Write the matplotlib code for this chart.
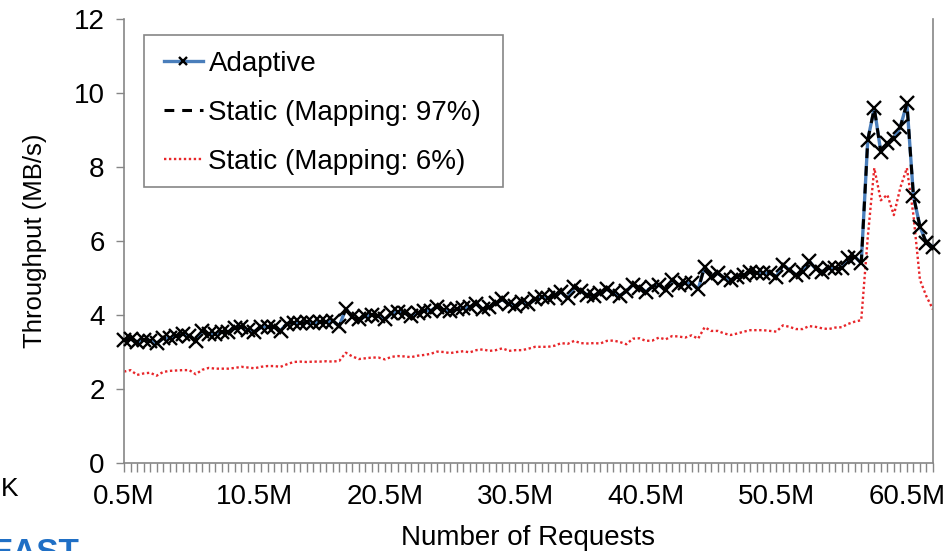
import numpy as np
import matplotlib.pyplot as plt
from matplotlib.patches import Rectangle

# requests issued so far (millions), one sample every 0.5M
requests_m = np.arange(0.5, 63.0, 0.5)

adaptive = [
    3.32, 3.35, 3.28, 3.32, 3.31, 3.23, 3.37, 3.37, 3.43, 3.48,
    3.44, 3.31, 3.58, 3.49, 3.50, 3.53, 3.55, 3.64, 3.67, 3.60,
    3.55, 3.67, 3.68, 3.67, 3.58, 3.77, 3.79, 3.78, 3.80, 3.78,
    3.80, 3.82, 3.84, 3.70, 4.17, 3.94, 3.88, 3.96, 4.00, 3.96,
    3.88, 4.05, 4.09, 4.05, 3.98, 4.05, 4.12, 4.12, 4.22, 4.14,
    4.10, 4.15, 4.18, 4.22, 4.30, 4.15, 4.22, 4.32, 4.42, 4.30,
    4.25, 4.35, 4.30, 4.42, 4.50, 4.46, 4.54, 4.62, 4.45, 4.76,
    4.64, 4.55, 4.52, 4.60, 4.70, 4.60, 4.52, 4.64, 4.82, 4.74,
    4.63, 4.77, 4.81, 4.68, 4.95, 4.81, 4.86, 4.86, 4.69, 5.31,
    5.04, 5.13, 5.00, 4.95, 5.04, 5.08, 5.17, 5.13, 5.13, 5.13,
    5.04, 5.35, 5.22, 5.08, 5.17, 5.46, 5.25, 5.17, 5.26, 5.26,
    5.26, 5.53, 5.58, 5.40, 8.73, 9.59, 8.41, 8.64, 8.77, 9.09,
    9.72, 7.22, 6.39, 5.94, 5.85,
]

# static mapping at 97% tracks the adaptive scheme
static_97 = list(adaptive)

static_6 = [
    2.47, 2.51, 2.38, 2.42, 2.44, 2.36, 2.46, 2.49, 2.50, 2.51,
    2.51, 2.40, 2.52, 2.57, 2.55, 2.55, 2.55, 2.57, 2.60, 2.58,
    2.56, 2.60, 2.62, 2.62, 2.60, 2.67, 2.73, 2.74, 2.73, 2.74,
    2.74, 2.75, 2.74, 2.76, 2.98, 2.88, 2.81, 2.83, 2.85, 2.85,
    2.80, 2.87, 2.89, 2.88, 2.86, 2.90, 2.92, 2.95, 3.01, 3.00,
    2.97, 3.00, 3.02, 2.99, 3.05, 3.07, 3.03, 3.05, 3.10, 3.03,
    3.05, 3.05, 3.09, 3.14, 3.14, 3.14, 3.17, 3.24, 3.22, 3.30,
    3.24, 3.23, 3.24, 3.23, 3.30, 3.31, 3.27, 3.21, 3.36, 3.37,
    3.30, 3.31, 3.39, 3.34, 3.43, 3.42, 3.39, 3.45, 3.36, 3.67,
    3.57, 3.57, 3.50, 3.46, 3.50, 3.55, 3.59, 3.59, 3.59, 3.57,
    3.55, 3.72, 3.68, 3.62, 3.62, 3.70, 3.68, 3.64, 3.62, 3.66,
    3.67, 3.76, 3.82, 3.86, 6.10, 7.97, 7.10, 7.25, 6.70, 7.45,
    7.97, 6.70, 4.95, 4.50, 4.15,
]

plt.rcParams['font.family'] = ['Liberation Sans', 'DejaVu Sans']

W, H = 953, 551
fig = plt.figure(figsize=(W / 100, H / 100), dpi=100)
ax = fig.add_axes([124 / W, 1 - 463 / H, (933 - 124) / W, (463 - 19) / H])

x = np.arange(len(requests_m))
axis_grey = '#868686'

ax.plot(x, adaptive, color='#4A7EBB', lw=2.4, marker='x', ms=10,
        mec='black', mew=1.7, label='Adaptive', clip_on=False, zorder=3)
ax.plot(x, static_97, color='black', lw=2.2, ls=(0, (3.2, 2.6)),
        label='Static (Mapping: 97%)', zorder=4)
ax.plot(x, static_6, color='#E8262A', lw=1.7, ls=(0, (1, 1.1)),
        label='Static (Mapping: 6%)', zorder=2)

ax.set_xlim(0, len(x) - 1)
ax.set_ylim(0, 12)
ax.set_yticks(range(0, 13, 2))
ax.set_xticks(x)
ax.set_xticklabels([f'{v:g}M' if i % 20 == 0 else '' for i, v in enumerate(requests_m)])

for side in ['left', 'bottom', 'right']:
    ax.spines[side].set_color(axis_grey)
    ax.spines[side].set_linewidth(1.2)
ax.spines['top'].set_visible(False)

ax.tick_params(axis='x', length=6.5, width=1, color=axis_grey, pad=8.5, labelsize=20)
ax.tick_params(axis='y', length=6, width=1, color=axis_grey, pad=8, labelsize=20)

ax.set_xlabel('Number of Requests', fontsize=20, labelpad=11)
ax.set_ylabel('Throughput (MB/s)', fontsize=18.5, labelpad=19)

# legend box drawn by hand so its padding can differ per side
box = Rectangle((144 / W, 1 - 187 / H), (503 - 144) / W, (187 - 35) / H,
                transform=fig.transFigure, facecolor='white',
                edgecolor=axis_grey, lw=1.2, zorder=5)
ax.add_patch(box)
box.set_clip_on(False)

leg = ax.legend(loc='upper left', bbox_to_anchor=(164 / W, 1 - 51 / H),
                bbox_transform=fig.transFigure, fontsize=20, frameon=False,
                handlelength=1.4, handletextpad=0.2, labelspacing=0.82,
                borderpad=0, borderaxespad=0, markerscale=0.6)
leg.set_zorder(6)

# bits of the surrounding slide that show at the edges
fig.text(1 / W, 1 - 489 / H, 'K', fontsize=19, ha='left', va='center')
fig.text(80 / W, 1 - 538 / H, 'EAST', fontsize=24, fontweight='bold',
         color='#1F6FC5', ha='right', va='top')

fig.savefig('out.png', dpi=100)
